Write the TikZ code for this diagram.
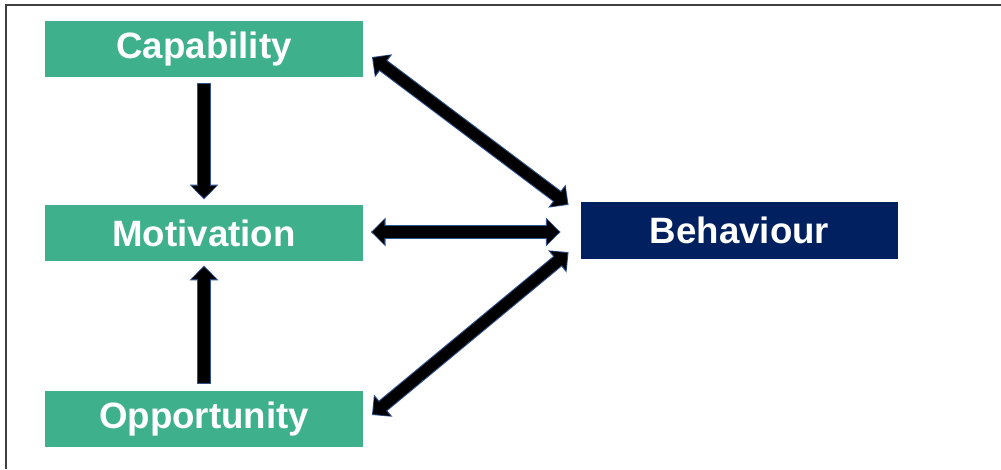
\documentclass[tikz,border=0pt]{standalone}
\usepackage{fontspec}
\setmainfont{Liberation Sans}
\usetikzlibrary{arrows.meta,calc}
\definecolor{cgreen}{RGB}{62,176,139}
\definecolor{cnavy}{RGB}{0,32,96}
\definecolor{cedge}{RGB}{47,82,143}
\definecolor{cframe}{RGB}{64,64,64}
\begin{document}
\begin{tikzpicture}[x=0.75pt,y=-0.75pt,
  box/.style={fill=cgreen,draw=none,minimum width=238pt,minimum height=42.5pt,inner sep=0pt,
    text=white,font=\fontsize{27.5}{32}\selectfont\bfseries},
  outbox/.style={box,fill=cnavy},
  arrback/.style={draw=cedge,line width=10pt,-{Triangle[width=21pt,length=11pt]}},
  arrfront/.style={draw=black,line width=8.4pt,-{Triangle[width=18pt,length=9pt]},shorten >=1.1pt},
  darrback/.style={draw=cedge,line width=10pt,{Triangle[width=21pt,length=11pt]}-{Triangle[width=21pt,length=11pt]}},
  darrfront/.style={draw=black,line width=8.4pt,{Triangle[width=18pt,length=9pt]}-{Triangle[width=18pt,length=9pt]},shorten >=1.1pt,shorten <=1.1pt}
]
\useasboundingbox (0,0) rectangle (1001,469);
\draw[cframe,line width=1.5pt] (1001,4.5) -- (5.5,4.5) -- (5.5,469);

\node[box] (cap) at (204,49) {\raisebox{-1.5pt}{Capability}};
\node[box] (mot) at (204,233) {\raisebox{-1.5pt}{Motivation}};
\node[box] (opp) at (204,419) {\raisebox{-1.5pt}{Opportunity}};
\node[outbox] (beh) at (739.5,230.5) {\raisebox{-1.5pt}{Behaviour}};

% capability -> motivation
\draw[arrback] ($(cap.south)+(0,5)$) -- ($(mot.north)+(0,-5)$);
\draw[arrfront,shorten <=1pt] ($(cap.south)+(0,5)$) -- ($(mot.north)+(0,-5)$);
% opportunity -> motivation
\draw[arrback] ($(opp.north)+(0,-6)$) -- ($(mot.south)+(0,4)$);
\draw[arrfront,shorten <=1pt] ($(opp.north)+(0,-6)$) -- ($(mot.south)+(0,4)$);
% motivation <-> behaviour
\draw[darrback] ($(mot.east)+(8,-1)$) -- ($(mot.east -| beh.west)+(-20,-1)$);
\draw[darrfront] ($(mot.east)+(8,-1)$) -- ($(mot.east -| beh.west)+(-20,-1)$);
% capability <-> behaviour
\draw[darrback] ($(cap.east)+(9,8)$) -- ($(beh.north west)+(-12,3)$);
\draw[darrfront] ($(cap.east)+(9,8)$) -- ($(beh.north west)+(-12,3)$);
% opportunity <-> behaviour
\draw[darrback] ($(opp.east)+(9,-4)$) -- ($(beh.south west)+(-12,-7)$);
\draw[darrfront] ($(opp.east)+(9,-4)$) -- ($(beh.south west)+(-12,-7)$);
\end{tikzpicture}
\end{document}
